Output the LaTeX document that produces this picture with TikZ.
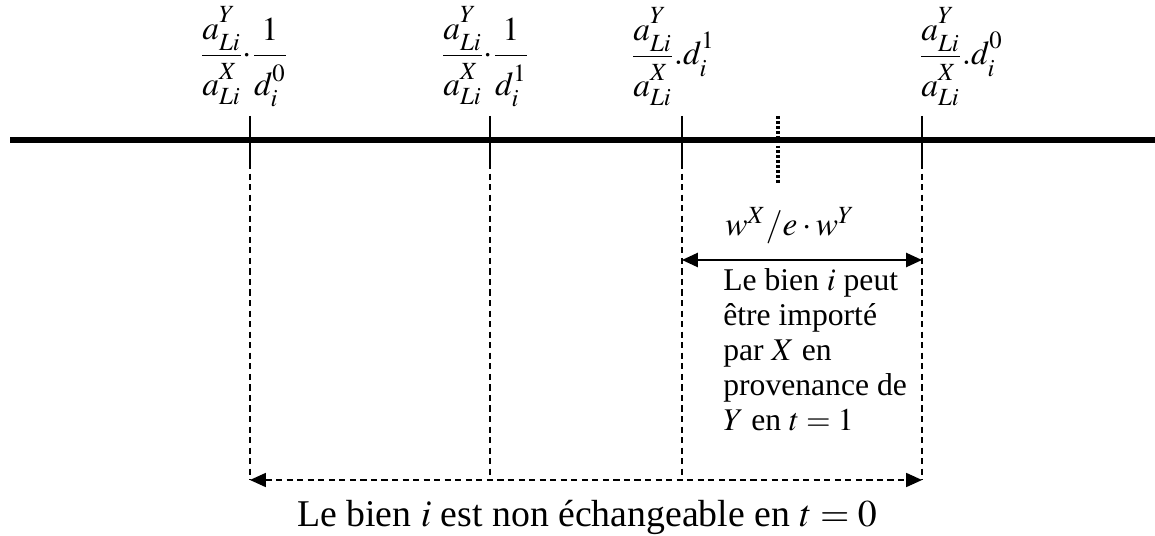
\documentclass[tikz,border=0pt]{standalone}
\usepackage{amsmath, mathptmx}
\usepackage{fontspec}
\setmainfont{Liberation Serif}
\usetikzlibrary{arrows.meta,positioning}

% fraction with a little more air between the two parts
\newcommand{\ratio}[2]{\dfrac{#1\rule[-6pt]{0pt}{0pt}}{\rule{0pt}{20pt}#2}}
% labour coefficient, country on top, Li below
\newcommand{\coef}[1]{a_{\raisebox{-1.5pt}{$\scriptstyle Li$}}^{\raisebox{2.5pt}{$\scriptstyle #1$}}}
% d_i with its period on top
\newcommand{\dist}[1]{d_{\raisebox{-2pt}{$\scriptstyle i$}}^{\raisebox{2.5pt}{$\scriptstyle #1$}}}

\begin{document}
\begin{tikzpicture}[x=0.02cm, y=-0.02cm,
    axis/.style={line width=3pt},
    tick/.style={line width=1.1pt},
    guide/.style={line width=0.7pt, dash pattern=on 3.5pt off 2.5pt},
    midtick/.style={line width=2.2pt, dash pattern=on 1.6pt off 1.2pt},
    arrow/.style={{Triangle[length=9pt,width=8pt]}-{Triangle[length=9pt,width=8pt]}, line width=1.1pt},
    bound/.style={font=\fontsize{19}{20}\selectfont, inner sep=0pt},
    note/.style={font=\fontsize{18}{20}\selectfont, inner sep=0pt, align=left},
    caption/.style={font=\fontsize{21.5}{24}\selectfont, inner sep=0pt}
  ]
  \useasboundingbox (0,0) rectangle (1155,536);

  % Axis
  \coordinate (start) at (10,140);
  \coordinate (end) at (1155,140);
  \draw[axis] (start) -- (end);

  % Ticks and guides
  \foreach \n/\x in {p0/250, p1/490, p2/682, p3/922} {
    \coordinate (\n) at (\x,140);
    \coordinate (\n-top) at (\x,116);
    \coordinate (\n-bot) at (\x,163);
    \coordinate (\n-end) at (\x,480);
    \draw[tick] (\n-top) -- (\n-bot);
    \draw[guide] (\n-bot) -- (\n-end);
  }
  \coordinate (w-top) at (778,116);
  \coordinate (w-bot) at (778,183);
  \draw[midtick] (w-top) -- (w-bot);

  % Bounds
  \node[bound] (b0) at (244,57) {$\ratio{\coef{Y}}{\coef{X}}{\cdot}\ratio{1}{\dist{0}}$};
  \node[bound] (b1) at (485,57) {$\ratio{\coef{Y}}{\coef{X}}{\cdot}\ratio{1}{\dist{1}}$};
  \node[bound] (b2) at (673,57) {$\ratio{\coef{Y}}{\coef{X}}.\dist{1}$};
  \node[bound] (b3) at (961,57) {$\ratio{\coef{Y}}{\coef{X}}.\dist{0}$};

  % Arrows
  \coordinate (a0) at (682,260);
  \coordinate (a1) at (922,260);
  \draw[arrow] (a0) -- (a1);
  \draw[arrow, guide] (p0-end) -- (p3-end);

  % Texts
  \node[bound] (wage) at (790,226) {$w^X/e\cdot w^Y$};
  \node[note, anchor=north west] (import) at (723,268)
    {Le bien $i$ peut\\ être importé\\ par $X$ en\\ provenance de\\ $Y$ en $t=1$};
  \node[caption] (notrade) at (587,517) {Le bien $i$ est non échangeable en $t=0$};
\end{tikzpicture}
\end{document}
